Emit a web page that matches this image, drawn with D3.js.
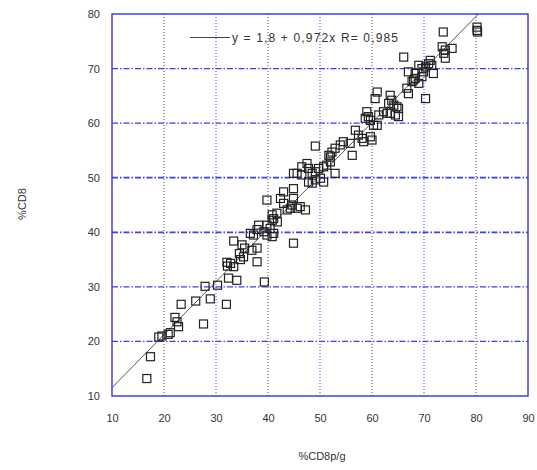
<!DOCTYPE html>
<html>
<head>
<meta charset="utf-8">
<script src="https://cdn.jsdelivr.net/npm/d3@7"></script>
<style>
  body { margin: 0; background: #fff; }
  text { font-family: "Liberation Sans", Arial, sans-serif; fill: #333; }
</style>
</head>
<body>
<script>
// %CD8p/g (x) vs %CD8 (y)
const xVals = [16.7,17.4,19.0,19.6,20.8,21.2,22.1,22.5,22.8,23.3,26.1,27.6,27.9,28.9,30.3,32.0,32.1,32.8,33.4,32.2,
  32.4,34.0,33.4,34.5,35.3,34.7,35.0,35.5,36.9,37.9,39.3,36.6,37.9,38.2,39.2,39.8,40.4,40.8,41.1,41.8,
  39.8,40.8,41.7,44.9,39.8,43.0,43.7,44.6,45.6,46.2,47.2,44.9,42.4,43.0,44.3,45.6,46.5,46.5,47.5,47.8,
  48.5,49.1,49.7,50.7,51.3,52.0,47.8,48.5,49.1,50.1,50.7,52.9,49.1,51.7,52.3,52.9,53.9,54.5,56.2,52.0,
  55.8,56.8,57.4,58.1,58.4,59.7,60.0,59.0,59.3,58.7,59.7,60.3,61.0,61.3,62.2,62.9,63.5,64.5,65.1,61.0,
  60.6,63.5,63.8,63.2,64.2,64.8,65.1,66.7,67.0,67.7,68.3,69.0,69.6,70.3,68.0,67.0,68.3,69.9,71.8,69.0,
  69.6,70.3,70.9,71.5,66.1,71.2,73.5,74.1,75.4,74.1,73.8,73.7,80.2,80.2,80.3,44.9,44.9,41.1,40.8,37.2,37.9];
const yVals = [13.2,17.2,20.8,21.0,21.3,21.6,24.4,23.6,22.7,26.8,27.4,23.2,30.1,27.8,30.3,26.8,34.5,34.3,33.7,33.8,
  31.6,31.2,38.4,36.1,35.5,35.0,37.7,37.1,36.7,34.6,30.9,39.8,40.5,41.3,40.1,39.5,40.7,42.2,42.5,41.9,
  45.9,43.2,43.5,38.0,41.3,45.3,44.1,45.0,44.4,44.7,44.1,48.0,46.2,47.4,44.4,50.8,50.5,52.0,52.6,51.7,
  50.8,51.1,51.7,52.0,52.3,52.9,49.2,49.0,49.6,49.9,49.2,50.8,55.8,54.1,54.7,55.4,56.0,56.6,54.1,53.8,
  56.3,58.7,57.8,57.2,56.6,57.5,56.9,62.1,61.2,60.9,60.5,59.6,59.6,61.5,62.1,61.8,61.8,61.5,61.2,65.7,
  64.5,65.1,64.2,63.6,63.3,63.0,62.7,66.4,65.4,67.6,68.2,67.3,68.5,64.5,67.9,69.4,69.1,69.4,69.1,70.6,
  70.0,70.3,70.9,70.6,72.1,71.5,74.0,73.4,73.7,71.9,72.8,76.7,77.6,77.0,76.7,50.8,46.2,39.8,39.2,39.5,37.1];

const xTicks = [10, 20, 30, 40, 50, 60, 70, 80, 90];
const yTicks = [10, 20, 30, 40, 50, 60, 70, 80];
const fit = { a: 1.8, b: 0.972 };
const legendText = "y = 1,8 + 0,972x  R= 0,985";

const W = 537, H = 470;
const pLeft = 112, pRight = 528, pTop = 14, pBottom = 396;
const blue = "#3f3ff0";

const svg = d3.select("body").append("svg")
  .attr("width", W).attr("height", H);

const x = d3.scaleLinear().domain([10, 90]).range([pLeft, pRight]);
const y = d3.scaleLinear().domain([10, 80]).range([pBottom, pTop]);

// vertical grid: black dotted at 20/40/60/80, blue at 30/50/70
svg.append("g").selectAll("line")
  .data(xTicks.slice(1, -1))
  .join("line")
  .attr("x1", d => x(d)).attr("x2", d => x(d))
  .attr("y1", pTop).attr("y2", pBottom)
  .attr("stroke", d => d % 20 === 0 ? "#555" : blue)
  .attr("stroke-width", 1)
  .attr("stroke-dasharray", "1,2");

// horizontal grid: blue dash-dot
svg.append("g").selectAll("line")
  .data(yTicks.slice(1, -1))
  .join("line")
  .attr("x1", pLeft).attr("x2", pRight)
  .attr("y1", d => y(d)).attr("y2", d => y(d))
  .attr("stroke", blue)
  .attr("stroke-width", d => d === 40 || d === 50 ? 1.8 : 1.3)
  .attr("stroke-dasharray", "6,2,1.5,2");

svg.append("rect")
  .attr("x", pLeft).attr("y", pTop)
  .attr("width", pRight - pLeft).attr("height", pBottom - pTop)
  .attr("fill", "none").attr("stroke", blue).attr("stroke-width", 1.5);

// axes labels only, no tick marks
const xAxis = svg.append("g")
  .attr("transform", `translate(0,${pBottom + 18})`)
  .call(d3.axisBottom(x).tickValues(xTicks).tickSize(0).tickPadding(0));
xAxis.select(".domain").remove();
xAxis.selectAll("text").attr("font-size", 11).style("font-family", "'Liberation Sans', Arial");

const yAxis = svg.append("g")
  .attr("transform", `translate(${pLeft - 12},0)`)
  .call(d3.axisLeft(y).tickValues(yTicks).tickSize(0).tickPadding(0));
yAxis.select(".domain").remove();
yAxis.selectAll("text").attr("font-size", 11).style("font-family", "'Liberation Sans', Arial");

// regression line
const xEnd = (80 - fit.a) / fit.b;
svg.append("line")
  .attr("x1", x(10)).attr("y1", y(fit.a + fit.b * 10))
  .attr("x2", x(xEnd)).attr("y2", y(80))
  .attr("stroke", "#444").attr("stroke-width", 0.9);

// points
svg.append("g").selectAll("rect")
  .data(xVals.map((v, i) => [v, yVals[i]]))
  .join("rect")
  .attr("x", d => x(d[0]) - 4)
  .attr("y", d => y(d[1]) - 4)
  .attr("width", 8).attr("height", 8)
  .attr("fill", "none")
  .attr("stroke", "#222")
  .attr("stroke-width", 1.2);

// legend
svg.append("line")
  .attr("x1", 190).attr("x2", 230).attr("y1", 37.5).attr("y2", 37.5)
  .attr("stroke", "#444").attr("stroke-width", 1);
svg.append("text")
  .attr("x", 232).attr("y", 42)
  .attr("font-size", 12)
  .attr("textLength", 166)
  .text(legendText);

svg.append("text")
  .attr("x", 322).attr("y", 460)
  .attr("text-anchor", "middle")
  .attr("font-size", 11)
  .text("%CD8p/g");

svg.append("text")
  .attr("transform", "translate(26,204) rotate(-90)")
  .attr("text-anchor", "middle")
  .attr("font-size", 11)
  .text("%CD8");
</script>
</body>
</html>
